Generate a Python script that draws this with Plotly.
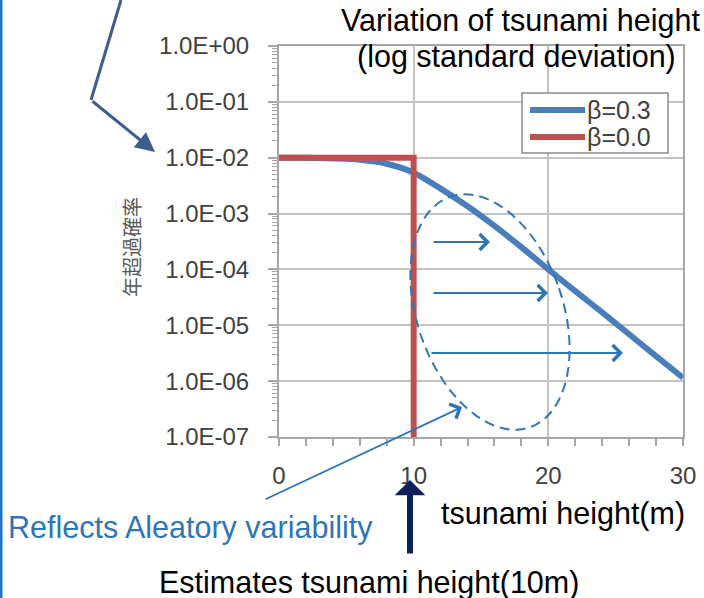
import numpy as np
import plotly.graph_objects as go

# ---------------- data ----------------
x_beta03 = [0, 2, 4, 6, 8, 10, 12, 14, 16, 18, 20, 22, 24, 26, 28, 30]
y_beta03 = [1.0e-2, 1.0e-2, 9.7e-3, 9.2e-3, 7.8e-3, 5.4e-3, 2.8e-3, 1.35e-3,
            6.0e-4, 2.5e-4, 1.0e-4, 4.1e-5, 1.7e-5, 6.9e-6, 2.8e-6, 1.15e-6]
x_beta00 = [0, 10, 10]
y_beta00 = [1.0e-2, 1.0e-2, 1.0e-7]

y_tickvals = [1e0, 1e-1, 1e-2, 1e-3, 1e-4, 1e-5, 1e-6, 1e-7]
y_ticktext = ["1.0E+00", "1.0E-01", "1.0E-02", "1.0E-03",
              "1.0E-04", "1.0E-05", "1.0E-06", "1.0E-07"]
y_minorvals = [m * 10.0 ** e for e in range(-7, 0) for m in range(2, 10)]
x_tickvals = [0, 10, 20, 30]
x_ticktext = ["0", "10", "20", "30"]

legend_names = ["β=0.3", "β=0.0"]
y_title = "年超過確率"
title_line1 = "Variation of tsunami height"
title_line2 = "(log standard deviation)"
x_title = "tsunami height(m)"
note_aleatory = "Reflects Aleatory variability"
note_estimate = "Estimates tsunami height(10m)"

# ---------------- layout geometry (pixels) ----------------
W, H = 704, 598
L, R, T, B = 279, 683, 46, 437


def px(x):
    return (x - L) / (R - L)


def py(y):
    return (B - y) / (B - T)


BLUE = "#4a7ebb"
RED = "#c0504d"
GRID = "#c4c4c4"
AXIS = "#a6a6a6"
NOTE_BLUE = "#2e75b6"
FONT = "Liberation Sans, Arial, sans-serif"

fig = go.Figure()
fig.add_trace(go.Scatter(x=x_beta03, y=y_beta03, mode="lines",
                         line=dict(color=BLUE, width=6, shape="spline", smoothing=0.8),
                         name=legend_names[0], showlegend=False))
fig.add_trace(go.Scatter(x=x_beta00, y=y_beta00, mode="lines",
                         line=dict(color=RED, width=6),
                         name=legend_names[1], showlegend=False))

fig.update_layout(
    width=W, height=H,
    margin=dict(l=L, r=W - R, t=T, b=H - B, autoexpand=False),
    paper_bgcolor="white", plot_bgcolor="white",
    font=dict(family=FONT, color="#404040"),
    showlegend=False,
)
fig.update_xaxes(
    range=[0, 30], tickmode="array", tickvals=x_tickvals, ticktext=x_ticktext,
    showgrid=True, gridcolor=GRID, gridwidth=1.5, automargin=False,
    showline=True, linecolor=AXIS, linewidth=2, mirror=True,
    ticks="outside", ticklen=7, tickwidth=1.5, tickcolor=AXIS,
    tickfont=dict(size=24, color="#404040"), ticklabelstandoff=9,
    minor=dict(dtick=2, tick0=0, ticks="outside", ticklen=7, tickwidth=1.5,
               tickcolor=AXIS, showgrid=False),
    zeroline=False,
)
fig.update_yaxes(
    type="log", range=[-7, 0], tickmode="array", tickvals=y_tickvals, ticktext=y_ticktext,
    showgrid=True, gridcolor=GRID, gridwidth=1.5, automargin=False,
    showline=True, linecolor=AXIS, linewidth=2, mirror=True,
    ticks="outside", ticklen=9, tickwidth=1.5, tickcolor=AXIS,
    tickfont=dict(size=24, color="#404040"), ticklabelstandoff=14,
    minor=dict(tickmode="array", tickvals=y_minorvals, ticks="outside", ticklen=5,
               tickwidth=1, tickcolor=AXIS, showgrid=False),
    zeroline=False,
)

shapes = []
annotations = []

# custom legend
shapes.append(dict(type="rect", xref="paper", yref="paper",
                   x0=px(522), x1=px(668), y0=py(153), y1=py(93),
                   line=dict(color="#8c8c8c", width=1.5), fillcolor="white"))
for i, (nm, col) in enumerate(zip(legend_names, [BLUE, RED])):
    yy = 110 + 27 * i
    shapes.append(dict(type="line", xref="paper", yref="paper",
                       x0=px(530), x1=px(585), y0=py(yy), y1=py(yy),
                       line=dict(color=col, width=6)))
    annotations.append(dict(text=nm, xref="paper", yref="paper", x=px(586), y=py(yy),
                            xanchor="left", yanchor="middle", showarrow=False,
                            borderpad=0,
                            font=dict(size=25, color="#404040", family=FONT)))

# dashed ellipse (annotation outline)
t = np.linspace(0, 2 * np.pi, 73)
cx, cy, a, b, ang = 490, 312, 122, 73, np.deg2rad(-19)
ex = cx + b * np.cos(t) * np.cos(ang) - a * np.sin(t) * np.sin(ang)
ey = cy + b * np.cos(t) * np.sin(ang) + a * np.sin(t) * np.cos(ang)
path = "M " + " L ".join(f"{px(xx):.4f},{py(yy):.4f}" for xx, yy in zip(ex, ey)) + " Z"
shapes.append(dict(type="path", xref="paper", yref="paper", path=path,
                   line=dict(color=NOTE_BLUE, width=2, dash="10px,6px")))

# left blue border
shapes.append(dict(type="line", xref="paper", yref="paper",
                   x0=px(1), x1=px(1), y0=py(0), y1=py(598),
                   line=dict(color="#1a73c8", width=3)))

# top-left bent arrow (first segment)
shapes.append(dict(type="line", xref="paper", yref="paper",
                   x0=px(121), y0=py(0), x1=px(91), y1=py(100),
                   line=dict(color="#3b5e8e", width=3)))
annotations.append(dict(x=px(155), y=py(152), xref="paper", yref="paper",
                        ax=91 - 155, ay=100 - 152, text="", showarrow=True,
                        arrowhead=2, arrowsize=1.3, arrowwidth=3, arrowcolor="#3b5e8e"))

# horizontal shift arrows
for (x0, x1, yy) in [(432, 490, 242), (432, 548, 293), (430, 623, 353)]:
    annotations.append(dict(x=px(x1), y=py(yy), xref="paper", yref="paper",
                            ax=x0 - x1, ay=0, text="", showarrow=True,
                            arrowhead=4, arrowsize=1.7, arrowwidth=1.8,
                            arrowcolor=NOTE_BLUE))

# diagonal arrow from aleatory note
annotations.append(dict(x=px(462), y=py(407), xref="paper", yref="paper",
                        ax=264 - 462, ay=500 - 407, text="", showarrow=True,
                        arrowhead=4, arrowsize=1.7, arrowwidth=1.8,
                        arrowcolor=NOTE_BLUE))

# navy arrow for estimate
annotations.append(dict(x=px(410), y=py(480), xref="paper", yref="paper",
                        ax=0, ay=555 - 480, text="", showarrow=True,
                        arrowhead=1, arrowsize=0.85, arrowwidth=6,
                        arrowcolor="#0f1f5a"))

# texts
big = dict(size=30.5, color="black", family=FONT)
annotations.append(dict(text=title_line1, xref="paper", yref="paper",
                        x=px(520), y=py(21), xanchor="center", yanchor="middle",
                        showarrow=False, borderpad=0, font=big))
annotations.append(dict(text=title_line2, xref="paper", yref="paper",
                        x=px(516), y=py(56.5), xanchor="center", yanchor="middle",
                        showarrow=False, borderpad=0, font=big))
annotations.append(dict(text=x_title, xref="paper", yref="paper",
                        x=px(563), y=py(513), xanchor="center", yanchor="middle",
                        showarrow=False, borderpad=0, font=big))
annotations.append(dict(text=note_aleatory, xref="paper", yref="paper",
                        x=px(7), y=py(527), xanchor="left", yanchor="middle",
                        showarrow=False, borderpad=0,
                        font=dict(size=30.5, color=NOTE_BLUE, family=FONT)))
annotations.append(dict(text=note_estimate, xref="paper", yref="paper",
                        x=px(369), y=py(582), xanchor="center", yanchor="middle",
                        showarrow=False, borderpad=0, font=big))
annotations.append(dict(text=y_title, xref="paper", yref="paper",
                        x=px(131), y=py(247), xanchor="center", yanchor="middle",
                        textangle=-90, showarrow=False,
                        font=dict(size=20, color="#595959",
                                  family="Noto Sans CJK JP, Noto Sans CJK SC")))

fig.update_layout(shapes=shapes, annotations=annotations)
fig.write_html(
    "out.html",
    config={"displayModeBar": False},
    post_script="document.body.style.margin='0';document.body.style.overflow='hidden';",
)
